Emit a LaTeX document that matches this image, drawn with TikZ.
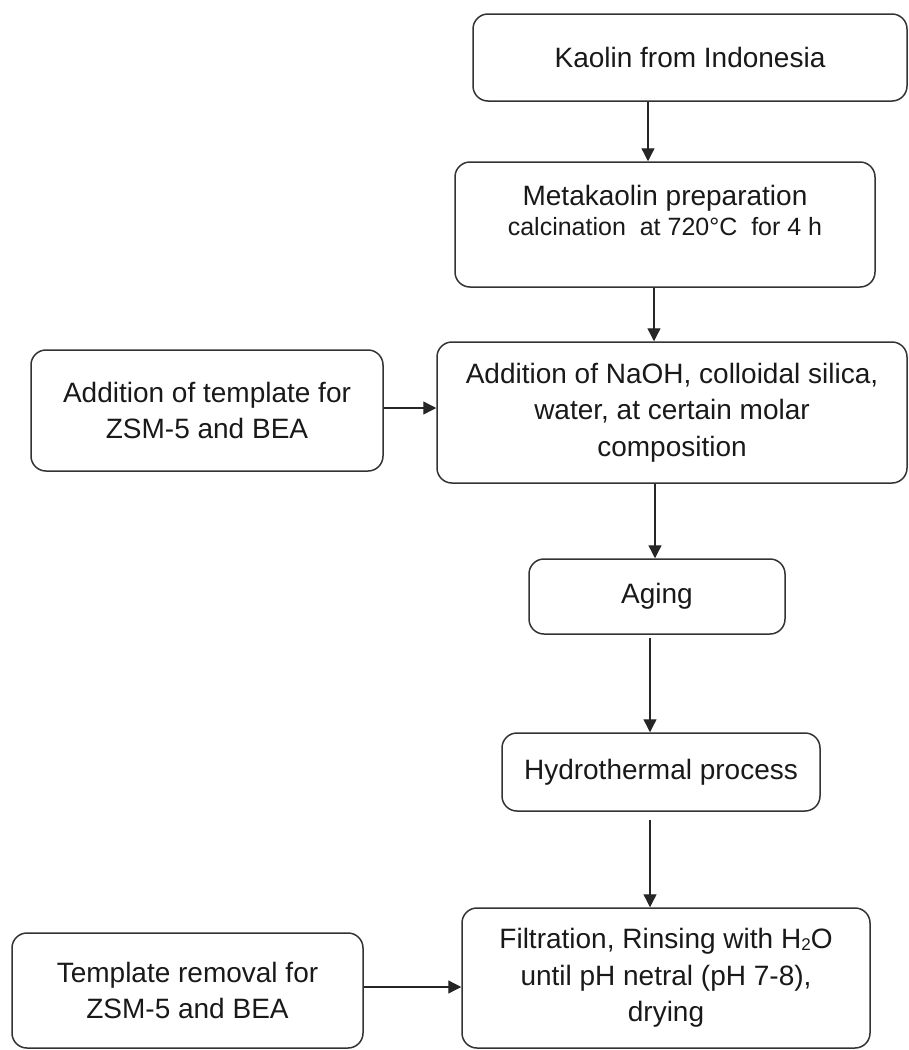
\documentclass[tikz,border=0pt]{standalone}
\usepackage{fontspec}
\setmainfont{Liberation Sans}
\usetikzlibrary{arrows.meta}
\begin{document}
\begin{tikzpicture}[x=1pt,y=-1pt,
  box/.style={draw=black!80, line width=1.5pt, rounded corners=15pt, align=center, inner sep=0pt,
              font=\fontsize{28}{36.5}\selectfont, text=black!90},
  txt/.style={align=center, inner sep=0pt, text=black!90},
  arr/.style={draw=black!85, line width=1.3pt, -{Triangle[length=13pt,width=13pt]}}]
\useasboundingbox (0,0) rectangle (909,1050);

\node[box, minimum width=434pt, minimum height=87pt] (kaolin) at (690,57.5) {Kaolin from Indonesia};

\node[box, minimum width=420pt, minimum height=125pt] (meta) at (665,224.5) {};
\node[txt, font=\fontsize{28}{30}\selectfont] (metatext) at (665,210)
  {Metakaolin preparation\\{\fontsize{25}{30}\selectfont calcination\ \ at 720°C\ \ for 4 h}};

\node[box, minimum width=352pt, minimum height=121pt] (tmpl) at (207,410.5)
  {Addition of template for\\ZSM-5 and BEA};

\node[box, minimum width=470pt, minimum height=141pt] (naoh) at (672,412.5)
  {Addition of NaOH, colloidal silica,\\water, at certain molar\\composition};

\node[box, minimum width=256pt, minimum height=75pt] (aging) at (657,596.5) {Aging};

\node[box, minimum width=318pt, minimum height=78pt] (hydro) at (661,772) {Hydrothermal process};

\node[box, minimum width=408pt, minimum height=140pt] (filt) at (666,978)
  {Filtration, Rinsing with H\raisebox{-0.05em}{\fontsize{17}{17}\selectfont 2}O\\until pH netral (pH 7-8),\\drying};

\node[box, minimum width=351pt, minimum height=115pt] (remove) at (187.5,990.5)
  {Template removal for\\ZSM-5 and BEA};

\draw[arr] (kaolin.south -| 648,0) -- (meta.north -| 648,0);
\draw[arr] (meta.south -| 654,0) -- (naoh.north -| 654,0);
\draw[arr] (tmpl.east |- 0,408) -- (naoh.west |- 0,408);
\draw[arr] (naoh.south -| 655,0) -- (aging.north -| 655,0);
\draw[arr, shorten <=3pt] (aging.south -| 650,0) -- (hydro.north -| 650,0);
\draw[arr, shorten <=8pt] (hydro.south -| 650,0) -- (filt.north -| 650,0);
\draw[arr] (remove.east |- 0,987) -- (filt.west |- 0,987);
\end{tikzpicture}
\end{document}
